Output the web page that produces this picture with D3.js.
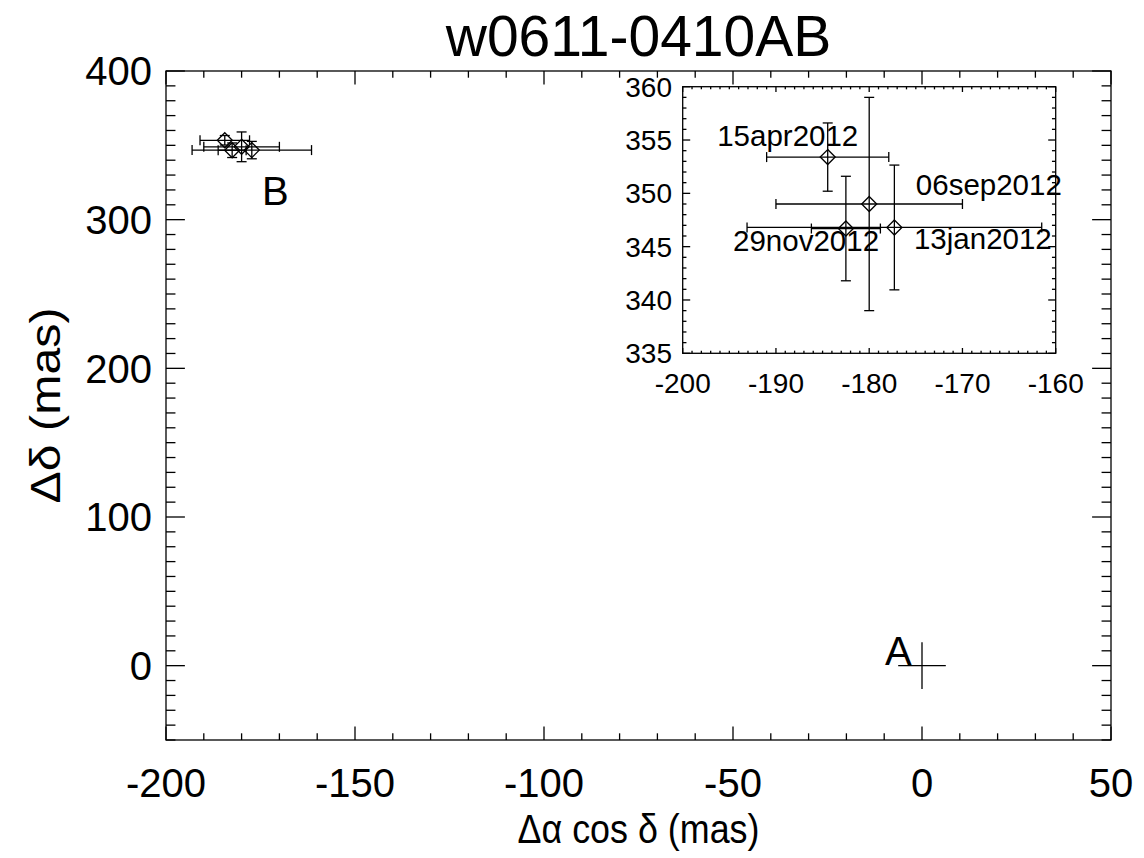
<!DOCTYPE html>
<html>
<head>
<meta charset="utf-8">
<script src="https://cdn.jsdelivr.net/npm/d3@7"></script>
<style>
  html, body { margin: 0; padding: 0; background: #fff; }
  svg { display: block; }
  text { font-family: "Liberation Sans", Arial, Helvetica, sans-serif; fill: #000; }
</style>
</head>
<body>
<svg id="chart" width="1144" height="858"></svg>
<script>
// ---------- data ----------
const titleText = "w0611-0410AB";
const xLabelText = "\u0394\u03b1 cos \u03b4 (mas)";
const yLabelText = "\u0394\u03b4 (mas)";

// epochs of component B relative to A (mas)
const epochs = ["15apr2012", "06sep2012", "29nov2012", "13jan2012"];
const dRA    = [-184.45, -180.0, -182.5, -177.3];
const dDec   = [353.4, 349.0, 346.7, 346.8];
const errRA  = [6.55, 10.0, 3.7, 15.8];
const errDec = [3.2, 10.0, 4.9, 5.85];

// inset label anchor points (data coords of the inset)
const labelRA  = [-196.3, -175.0, -194.6, -175.2];
const labelDec = [354.4, 349.85, 344.6, 344.8];

// component A at origin with its cross
const compA = { ra: 0, dec: 0, errRA: 6.3, errDec: 15.7 };
const compLabels = [ { name: "A", ra: -9.8, dec: 0.3 }, { name: "B", ra: -174.6, dec: 310 } ];

const mainXDomain = [-200, 50];
const mainYDomain = [-50, 400];
const mainXTicks = [-200, -150, -100, -50, 0, 50];
const mainYTicks = [0, 100, 200, 300, 400];
const insetXDomain = [-200, -160];
const insetYDomain = [335, 360];
const insetXTicks = [-200, -190, -180, -170, -160];
const insetYTicks = [335, 340, 345, 350, 355, 360];

// ---------- layout ----------
const svg = d3.select("#chart");
const M = { l: 166, r: 1111, t: 71, b: 740 };
const I = { l: 682.7, r: 1055.7, t: 86.7, b: 353.3 };

const x = d3.scaleLinear().domain(mainXDomain).range([M.l, M.r]);
const y = d3.scaleLinear().domain(mainYDomain).range([M.b, M.t]);
const xi = d3.scaleLinear().domain(insetXDomain).range([I.l, I.r]);
const yi = d3.scaleLinear().domain(insetYDomain).range([I.b, I.t]);

const stroke = "#000";
const sw = 1.3;
const fmt = d => String(d);   // plain hyphen-minus, as in the reference

function drawFrame(g, box, xs, ys, xMaj, xMinStep, yMaj, yMinStep, xLen, yLen, fs, xLabY, yLabX) {
  g.append("rect").attr("x", box.l).attr("y", box.t)
    .attr("width", box.r - box.l).attr("height", box.b - box.t)
    .attr("fill", "#fff").attr("stroke", stroke).attr("stroke-width", sw);
  const xd = xs.domain(), yd = ys.domain();
  const xMinor = d3.range(xd[0], xd[1] + 1e-9, xMinStep);
  const yMinor = d3.range(yd[0], yd[1] + 1e-9, yMinStep);
  const tk = g.append("g").attr("stroke", stroke).attr("stroke-width", sw);
  xMinor.forEach(v => {
    const isMaj = xMaj.some(m => Math.abs(m - v) < 1e-6);
    const L = isMaj ? xLen : xLen / 2;
    tk.append("line").attr("x1", xs(v)).attr("x2", xs(v)).attr("y1", box.b).attr("y2", box.b - L);
    tk.append("line").attr("x1", xs(v)).attr("x2", xs(v)).attr("y1", box.t).attr("y2", box.t + L);
  });
  yMinor.forEach(v => {
    const isMaj = yMaj.some(m => Math.abs(m - v) < 1e-6);
    const L = isMaj ? yLen : yLen / 2;
    tk.append("line").attr("y1", ys(v)).attr("y2", ys(v)).attr("x1", box.l).attr("x2", box.l + L);
    tk.append("line").attr("y1", ys(v)).attr("y2", ys(v)).attr("x1", box.r).attr("x2", box.r - L);
  });
  g.selectAll(null).data(xMaj).enter().append("text")
    .attr("x", d => xs(d)).attr("y", xLabY)
    .attr("text-anchor", "middle").attr("font-size", fs)
    .text(fmt);
  g.selectAll(null).data(yMaj).enter().append("text")
    .attr("x", yLabX).attr("y", d => ys(d)).attr("dy", "0.36em")
    .attr("text-anchor", "end").attr("font-size", fs)
    .text(fmt);
}

function drawPoints(g, xs, ys) {
  const cap = 5, dsz = 7.5;
  const pts = epochs.map((e, i) => ({ e, ra: dRA[i], dec: dDec[i], er: errRA[i], ed: errDec[i] }));
  const pg = g.append("g").attr("stroke", stroke).attr("stroke-width", sw).attr("fill", "none");
  pts.forEach(p => {
    const cx = xs(p.ra), cy = ys(p.dec);
    const x0 = xs(p.ra - p.er), x1 = xs(p.ra + p.er);
    const y0 = ys(p.dec - p.ed), y1 = ys(p.dec + p.ed);
    pg.append("line").attr("x1", x0).attr("x2", x1).attr("y1", cy).attr("y2", cy);
    pg.append("line").attr("x1", x0).attr("x2", x0).attr("y1", cy - cap).attr("y2", cy + cap);
    pg.append("line").attr("x1", x1).attr("x2", x1).attr("y1", cy - cap).attr("y2", cy + cap);
    pg.append("line").attr("x1", cx).attr("x2", cx).attr("y1", y0).attr("y2", y1);
    pg.append("line").attr("x1", cx - cap).attr("x2", cx + cap).attr("y1", y0).attr("y2", y0);
    pg.append("line").attr("x1", cx - cap).attr("x2", cx + cap).attr("y1", y1).attr("y2", y1);
    pg.append("path").attr("d",
      `M${cx},${cy - dsz}L${cx + dsz},${cy}L${cx},${cy + dsz}L${cx - dsz},${cy}Z`);
  });
}

// ---------- main panel ----------
const gMain = svg.append("g");
drawFrame(gMain, M, x, y, mainXTicks, 10, mainYTicks, 10, 13.4, 18.9, 40, 797, 152);
drawPoints(gMain, x, y);

// component A cross
gMain.append("g").attr("stroke", stroke).attr("stroke-width", sw)
  .call(g => {
    g.append("line").attr("x1", x(compA.ra - compA.errRA)).attr("x2", x(compA.ra + compA.errRA))
      .attr("y1", y(compA.dec)).attr("y2", y(compA.dec));
    g.append("line").attr("x1", x(compA.ra)).attr("x2", x(compA.ra))
      .attr("y1", y(compA.dec - compA.errDec)).attr("y2", y(compA.dec + compA.errDec));
  });

gMain.selectAll(null).data(compLabels).enter().append("text")
  .attr("x", d => x(d.ra)).attr("y", d => y(d.dec))
  .attr("font-size", 40).text(d => d.name);

// titles
svg.append("text").attr("x", (M.l + M.r) / 2).attr("y", 56)
  .attr("text-anchor", "middle").attr("font-size", 57).text(titleText);
svg.append("text").attr("x", (M.l + M.r) / 2).attr("y", 843)
  .attr("text-anchor", "middle").attr("font-size", 40)
  .attr("textLength", 242).attr("lengthAdjust", "spacingAndGlyphs").text(xLabelText);
svg.append("text").attr("transform", `translate(60,${(M.t + M.b) / 2}) rotate(-90)`)
  .attr("text-anchor", "middle").attr("font-size", 42)
  .attr("textLength", 196).attr("lengthAdjust", "spacingAndGlyphs").text(yLabelText);

// ---------- inset ----------
const gIn = svg.append("g");
drawFrame(gIn, I, xi, yi, insetXTicks, 1, insetYTicks, 1, 5.3, 7.5, 28, 393, 672);
drawPoints(gIn, xi, yi);
gIn.selectAll(null).data(epochs).enter().append("text")
  .attr("x", (d, i) => xi(labelRA[i])).attr("y", (d, i) => yi(labelDec[i]))
  .attr("font-size", 29.5).text(d => d);
</script>
</body>
</html>
